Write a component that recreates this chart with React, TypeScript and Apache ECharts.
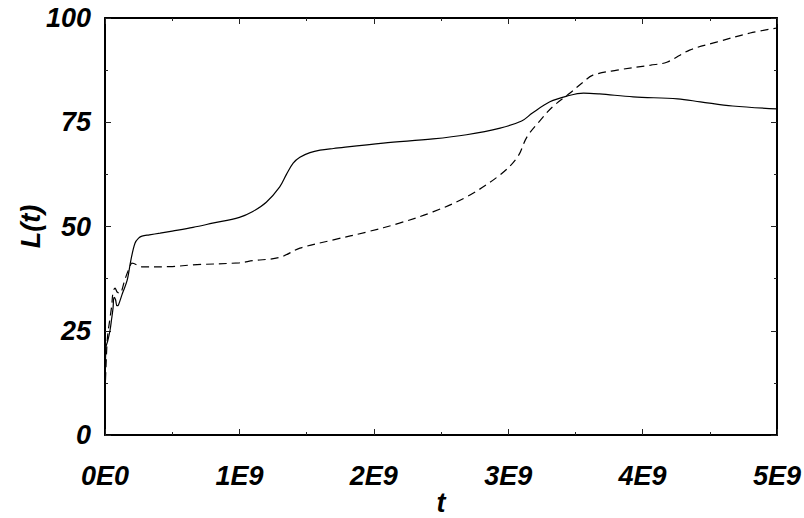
import React, { useEffect, useRef } from "react";
import * as echarts from "echarts";

// t values in units of 1E9 (converted to raw t below)
const solidT = [0, 0.007, 0.02, 0.037, 0.05, 0.06, 0.067, 0.078, 0.089, 0.1, 0.13, 0.164, 0.193, 0.223, 0.25, 0.275, 0.33, 0.41, 0.5, 0.655, 0.8, 1.0, 1.1, 1.2, 1.3, 1.35, 1.4, 1.45, 1.525, 1.6, 1.7, 2.07, 2.44, 2.69, 2.94, 3.1, 3.18, 3.31, 3.44, 3.56, 3.68, 3.93, 4.26, 4.43, 4.67, 5.0];
const solidL = [10, 21, 22.5, 25, 28, 30.5, 33, 32.5, 31, 31.2, 34, 37, 42, 46, 47.2, 47.7, 48, 48.4, 48.9, 49.8, 50.8, 52.2, 53.6, 55.8, 59.5, 62.5, 65.2, 66.6, 67.7, 68.3, 68.7, 70, 71, 72, 73.6, 75.3, 77.2, 79.9, 81.3, 82, 81.8, 81.1, 80.6, 79.9, 78.9, 78.2];

const dashT = [0, 0.007, 0.015, 0.022, 0.037, 0.05, 0.06, 0.075, 0.09, 0.11, 0.15, 0.19, 0.2, 0.28, 0.5, 0.655, 1.0, 1.1, 1.3, 1.45, 1.7, 1.95, 2.19, 2.44, 2.69, 2.94, 3.07, 3.14, 3.24, 3.33, 3.46, 3.56, 3.63, 3.81, 4.06, 4.18, 4.35, 4.55, 4.8, 5.0];
const dashL = [10, 16, 22, 24.5, 28, 31, 34.3, 35.2, 34.3, 34, 37.5, 40.8, 41.2, 40.3, 40.4, 40.8, 41.3, 41.8, 42.6, 44.8, 46.8, 48.7, 50.8, 53.5, 57.1, 62.4, 66.7, 71.5, 75.5, 78.7, 82, 84.7, 86.3, 87.5, 88.7, 89.4, 92.3, 94.2, 96.4, 97.6];

const xTickLabels = ["0E0", "1E9", "2E9", "3E9", "4E9", "5E9"];
const yTickValues = [0, 25, 50, 75, 100];

const FONT = "Liberation Sans";

export default function App() {
  const ref = useRef<HTMLDivElement>(null);
  useEffect(() => {
    if (!ref.current) return;
    const chart = echarts.init(ref.current, undefined, { renderer: "svg" });
    const labelStyle = {
      fontFamily: FONT,
      fontStyle: "italic" as const,
      fontWeight: "bold" as const,
      fontSize: 27,
      color: "#000",
    };
    const tickCommon = {
      axisLine: { show: true, onZero: false, lineStyle: { color: "#000", width: 2 } },
      axisTick: { show: true, inside: true, length: 6, lineStyle: { color: "#222", width: 1 } },
      minorTick: { show: true, splitNumber: 2, length: 3, lineStyle: { color: "#222", width: 1 } },
      splitLine: { show: false },
      minorSplitLine: { show: false },
    };
    chart.setOption({
      animation: false,
      backgroundColor: "#fff",
      grid: {
        left: 105,
        right: 27,
        top: 18,
        bottom: 83,
        containLabel: false,
        outerBoundsMode: "none",
      },
      xAxis: [
        {
          type: "value",
          min: 0,
          max: 5e9,
          interval: 1e9,
          ...tickCommon,
          axisLabel: {
            ...labelStyle,
            margin: 27,
            formatter: (v: number) => xTickLabels[Math.round(v / 1e9)] ?? "",
          },
          name: "t",
          nameLocation: "middle",
          nameGap: 54,
          nameMoveOverlap: false,
          nameTextStyle: { ...labelStyle, fontSize: 27, lineHeight: 27 },
        },
        {
          type: "value",
          position: "top",
          min: 0,
          max: 5e9,
          interval: 1e9,
          ...tickCommon,
          axisLabel: { show: false },
        },
      ],
      yAxis: [
        {
          type: "value",
          min: 0,
          max: 100,
          interval: 25,
          ...tickCommon,
          axisLabel: {
            ...labelStyle,
            margin: 14,
            formatter: (v: number) => (yTickValues.includes(v) ? String(v) : ""),
          },
          name: "L(t)",
          nameLocation: "middle",
          nameRotate: 90,
          nameGap: 61,
          nameMoveOverlap: false,
          nameTextStyle: { ...labelStyle, fontSize: 27 },
        },
        {
          type: "value",
          position: "right",
          min: 0,
          max: 100,
          interval: 25,
          ...tickCommon,
          axisLabel: { show: false },
        },
      ],
      series: [
        {
          type: "line",
          xAxisIndex: 0,
          yAxisIndex: 0,
          data: solidT.map((t, i) => [t * 1e9, solidL[i]]),
          showSymbol: false,
          symbol: "none",
          smooth: 0.35,
          lineStyle: { color: "#000", width: 1.2, type: "solid" },
        },
        {
          type: "line",
          xAxisIndex: 0,
          yAxisIndex: 0,
          data: dashT.map((t, i) => [t * 1e9, dashL[i]]),
          showSymbol: false,
          symbol: "none",
          smooth: 0.35,
          lineStyle: { color: "#000", width: 1.2, type: [8, 5] },
        },
      ],
    });
    return () => chart.dispose();
  }, []);
  return (
    <div
      ref={ref}
      style={{ position: "fixed", left: 0, top: 0, width: 804, height: 518, background: "#fff" }}
    />
  );
}
